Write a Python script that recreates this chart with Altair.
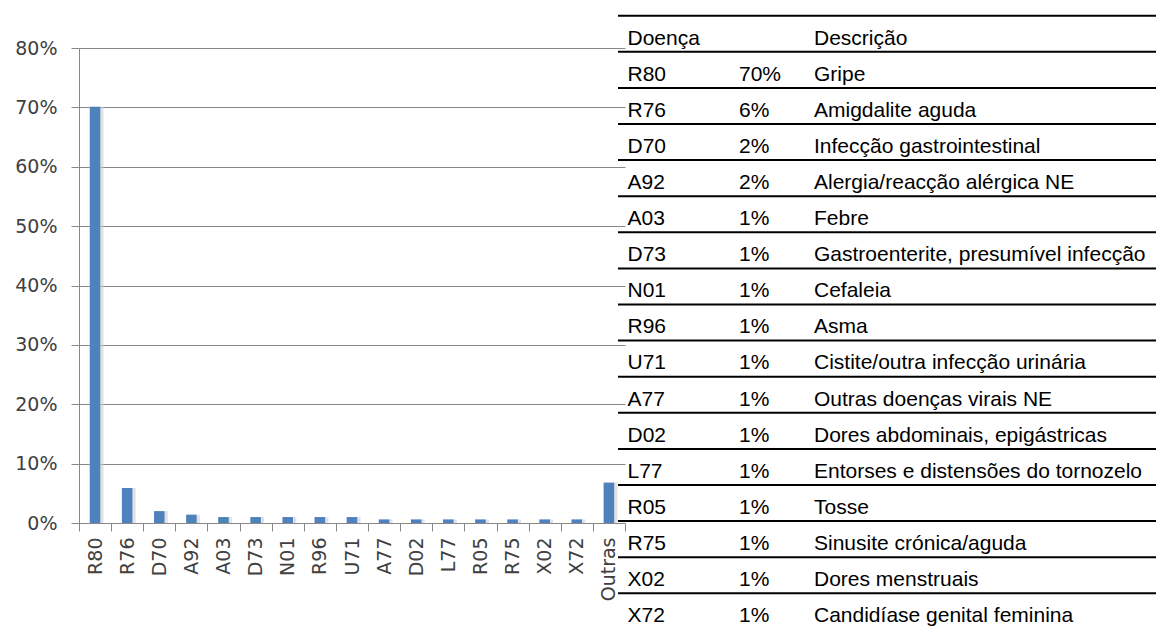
import altair as alt
import pandas as pd

# ---- chart data ----
codes = ["R80", "R76", "D70", "A92", "A03", "D73", "N01", "R96", "U71",
         "A77", "D02", "L77", "R05", "R75", "X02", "X72", "Outras"]
values = [0.701, 0.059, 0.020, 0.014, 0.010, 0.010, 0.010, 0.010, 0.010,
          0.006, 0.006, 0.006, 0.006, 0.006, 0.006, 0.006, 0.068]

# ---- table data ----
header = ["Doença", "", "Descrição"]
table_codes = ["R80", "R76", "D70", "A92", "A03", "D73", "N01", "R96",
               "U71", "A77", "D02", "L77", "R05", "R75", "X02", "X72"]
table_pcts = ["70%", "6%", "2%", "2%", "1%", "1%", "1%", "1%",
              "1%", "1%", "1%", "1%", "1%", "1%", "1%", "1%"]
table_descs = ["Gripe", "Amigdalite aguda", "Infecção gastrointestinal",
               "Alergia/reacção alérgica NE", "Febre",
               "Gastroenterite, presumível infecção", "Cefaleia", "Asma",
               "Cistite/outra infecção urinária", "Outras doenças virais NE",
               "Dores abdominais, epigástricas",
               "Entorses e distensões do tornozelo", "Tosse",
               "Sinusite crónica/aguda", "Dores menstruais",
               "Candidíase genital feminina"]

bars_df = pd.DataFrame({"code": codes, "value": values})

rows = []
for c, txt in enumerate(header):
    rows.append({"row": 0, "col": c, "text": txt})
for i, (a, b, d) in enumerate(zip(table_codes, table_pcts, table_descs), start=1):
    rows.append({"row": i, "col": 0, "text": a})
    rows.append({"row": i, "col": 1, "text": b})
    rows.append({"row": i, "col": 2, "text": d})
text_df = pd.DataFrame(rows)
rules_df = pd.DataFrame({"line": list(range(17))})

# ---- layout ----
W, H = 546, 475
ROW_H = 36.1
TOP_LINE = -32.3
TEXT_TOP = -9.5

x_band = alt.Scale(domain=codes, paddingInner=0, paddingOuter=0)
y_lin = alt.Scale(domain=[0, 0.8], nice=False)

x_axis = alt.Axis(labelAngle=270, tickBand="extent", tickSize=8,
                  labelPadding=6, labelFont="DejaVu Sans", labelFontSize=19,
                  labelColor="#404040", domainColor="#888888",
                  tickColor="#888888", grid=False)
y_axis = alt.Axis(values=[0, 0.1, 0.2, 0.3, 0.4, 0.5, 0.6, 0.7, 0.8],
                  format=".0%", tickSize=8, labelPadding=14,
                  labelFont="DejaVu Sans", labelFontSize=19,
                  labelColor="#404040", domainColor="#888888",
                  tickColor="#888888", gridColor="#888888",
                  gridWidth=1, grid=True)

shadow = alt.Chart(bars_df).mark_bar(size=14, color="#cfcfcf", opacity=0.6, xOffset=1.5).encode(
    x=alt.X("code:N", scale=x_band, sort=codes, title=None, axis=x_axis),
    y=alt.Y("value:Q", scale=y_lin, title=None, axis=y_axis),
)

bars = alt.Chart(bars_df).mark_bar(size=10.5, color="#4F81BD").encode(
    x=alt.X("code:N", scale=x_band, sort=codes, title=None, axis=x_axis),
    y=alt.Y("value:Q", scale=y_lin, title=None, axis=y_axis),
)

plot = alt.layer(shadow, bars)

rules = alt.Chart(rules_df).mark_rule(color="black", strokeWidth=2).encode(
    x=alt.X(datum=0, type="quantitative",
            scale=alt.Scale(domain=[0, 1], range=[539, 1077]), axis=None),
    x2=alt.X2(datum=1),
    y=alt.Y("line:Q", scale=alt.Scale(domain=[0, 17], range=[TOP_LINE, TOP_LINE + 17 * ROW_H]),
            axis=None),
)

texts = alt.Chart(text_df).mark_text(
    align="left", baseline="middle", font="Liberation Sans", fontSize=21, color="black"
).encode(
    x=alt.X("col:Q", scale=alt.Scale(domain=[0, 1, 2], range=[548.5, 660, 735]), axis=None),
    y=alt.Y("row:Q", scale=alt.Scale(domain=[0, 17], range=[TEXT_TOP, TEXT_TOP + 17 * ROW_H]),
            axis=None),
    text="text:N",
)

chart = alt.layer(plot, rules, texts).resolve_scale(
    x="independent", y="independent"
).properties(
    width=W, height=H,
    background="white",
    autosize=alt.AutoSizeParams(type="none"),
    padding={"left": 71, "top": 40, "right": 531, "bottom": 103},
).configure_view(stroke=None)

chart.save("out.html", embed_options={"renderer": "svg", "actions": False})
